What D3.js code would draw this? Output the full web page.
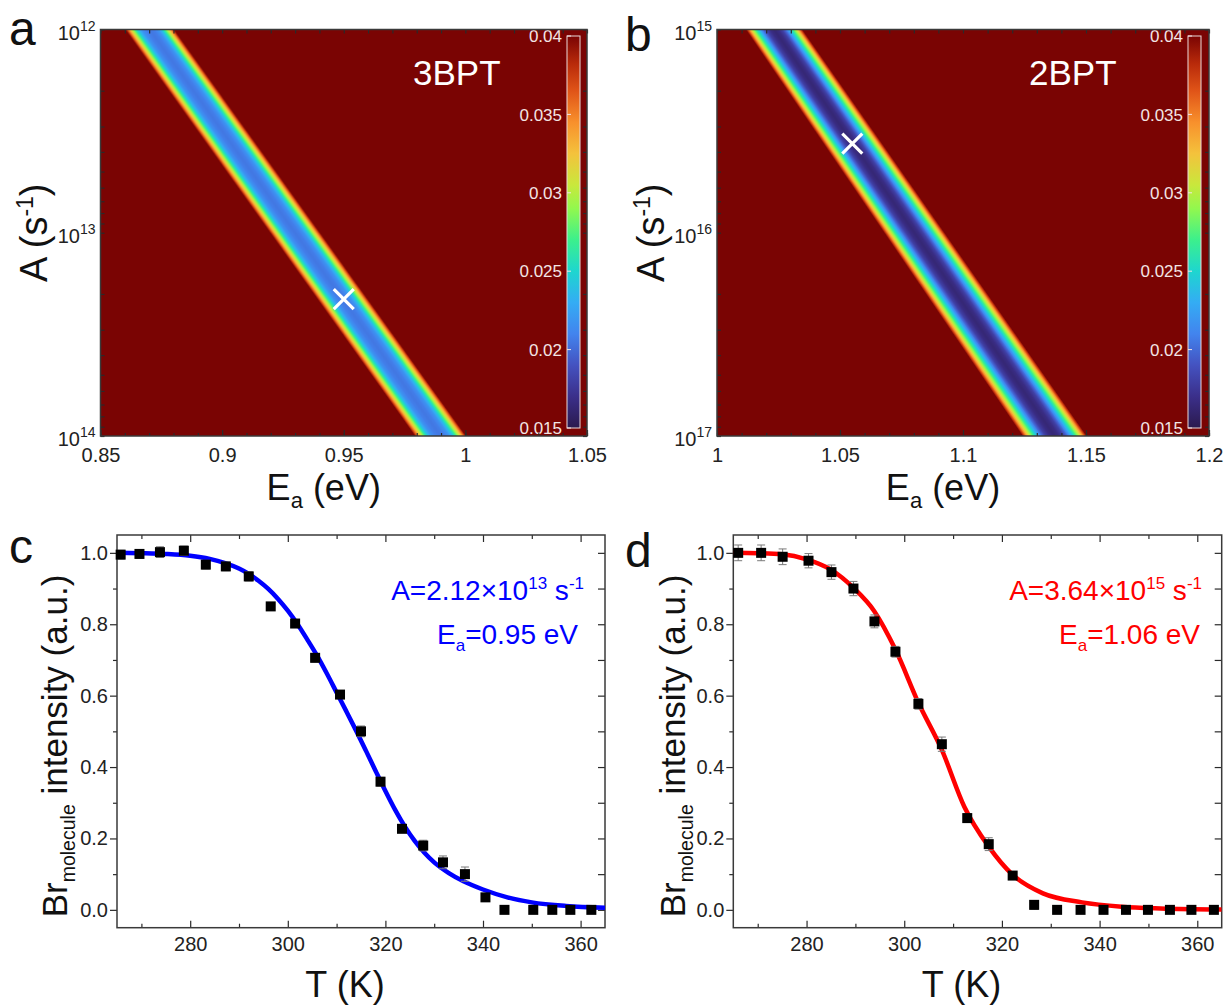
<!DOCTYPE html>
<html>
<head>
<meta charset="utf-8" />
<title>Residual maps and Arrhenius fits</title>
<script src="https://d3js.org/d3.v7.min.js"></script>
<style>
  body { margin: 0; background: #fff; }
  svg { display: block; font-family: Arial, "Liberation Sans", sans-serif; }
  .frame { fill: none; stroke: #3a3a3a; stroke-width: 1.5px; }
  .axis path.domain { display: none; }
  .axis line { stroke: #2a2a2a; stroke-width: 1.2px; }
  .axis text { fill: #222; font-family: Arial, "Liberation Sans", sans-serif; }
</style>
</head>
<body>
<svg id="fig" width="1226" height="1006"></svg>
<script>
  // ---------- data ----------
  // colour bar range (residual)
  const cbDomain = [0.015, 0.04];
  const cbTicks = [0.015, 0.02, 0.025, 0.03, 0.035, 0.04];

  // panel a (3BPT): minimum valley of the residual map
  const mapA_Ea = [0.85, 1.05];
  const mapA_A = [1e12, 1e14];
  const mapA_xTicks = [0.85, 0.9, 0.95, 1, 1.05];
  const mapA_valleyLogA = [12, 14];
  const mapA_valleyEa = [0.8702, 0.9898];
  const mapA_halfWidth = [0.0100, 0.0105];
  const mapA_profOffset = [0, 0.18, 0.34, 0.46, 0.58, 0.7, 0.82, 0.92, 1.0];
  const mapA_profValue = [0.0205, 0.0208, 0.0218, 0.0235, 0.0262, 0.0295, 0.033, 0.0365, 0.040];
  const mapA_best = [0.95, 2.12e13];

  // panel b (2BPT)
  const mapB_Ea = [1.0, 1.2];
  const mapB_A = [1e15, 1e17];
  const mapB_xTicks = [1, 1.05, 1.1, 1.15, 1.2];
  const mapB_valleyLogA = [15, 17];
  const mapB_valleyEa = [1.0232, 1.1373];
  const mapB_halfWidth = [0.0115, 0.0131];
  const mapB_profOffset = [0, 0.14, 0.28, 0.4, 0.52, 0.64, 0.76, 0.88, 1.0];
  const mapB_profValue = [0.0163, 0.0168, 0.018, 0.0202, 0.0232, 0.0265, 0.030, 0.0345, 0.040];
  const mapB_best = [1.055, 3.64e15];

  // panel c (blue fit)
  const c_T = [265.75, 269.6, 273.8, 278.7, 283.2, 287.3, 292.0, 296.5, 301.5, 305.6, 310.7, 315.0,
               319.0, 323.4, 327.75, 331.8, 336.3, 340.5, 344.4, 350.3, 354.2, 357.9, 362.2];
  const c_I = [0.995, 0.997, 1.002, 1.006, 0.967, 0.962, 0.934, 0.850, 0.802, 0.706, 0.603, 0.500,
               0.359, 0.227, 0.180, 0.133, 0.100, 0.035, 0, 0, 0, 0, 0];
  const c_err = [0.012, 0.012, 0.015, 0.013, 0.012, 0.012, 0.013, 0.01, 0.01, 0.012, 0.01, 0.015,
                 0.012, 0.01, 0.015, 0.018, 0.02, 0.008, 0, 0, 0, 0, 0];
  const c_fitT = [265, 270, 275, 280, 284, 287, 290, 292, 294, 296, 298, 300, 302, 304, 306, 308,
                  310, 312, 314, 316, 318, 320, 322, 324, 326, 328, 330, 333, 336, 340, 345, 350,
                  357, 365];
  const c_fitI = [1.0, 0.999, 0.997, 0.992, 0.983, 0.972, 0.956, 0.941, 0.922, 0.899, 0.871, 0.838,
                  0.800, 0.757, 0.712, 0.662, 0.609, 0.556, 0.502, 0.446, 0.389, 0.333, 0.280,
                  0.233, 0.193, 0.160, 0.133, 0.103, 0.080, 0.057, 0.035, 0.021, 0.011, 0.006];

  // panel d (red fit)
  const d_T = [266.0, 270.7, 275.1, 280.4, 285.1, 289.6, 293.9, 298.2, 302.9, 307.7, 312.9, 317.3,
               322.2, 326.6, 331.3, 336.1, 340.8, 345.4, 349.9, 354.4, 358.8, 363.4];
  const d_I = [1.0, 1.0, 0.989, 0.978, 0.946, 0.900, 0.808, 0.723, 0.577, 0.464, 0.257, 0.184,
               0.096, 0.014, 0, 0, 0, 0, 0, 0, 0, 0];
  const d_err = [0.022, 0.022, 0.022, 0.02, 0.02, 0.02, 0.018, 0.015, 0.015, 0.02, 0.012, 0.018,
                 0.01, 0.012, 0, 0, 0, 0, 0, 0, 0, 0];
  const d_fitT = [265, 270, 275, 280, 285, 289.6, 293.9, 298.2, 302.9, 307.7, 312.3, 317.3, 322.2,
                  328.4, 336.4, 344.5, 352.5, 365];
  const d_fitI = [1.0, 0.999, 0.996, 0.982, 0.953, 0.902, 0.836, 0.729, 0.58, 0.448, 0.289, 0.177,
                  0.098, 0.046, 0.021, 0.009, 0.004, 0.001];

  const tDomain = [265, 365];
  const iDomain = [-0.05, 1.05];
  const tMajor = [280, 300, 320, 340, 360];
  const tMinor = [270, 290, 310, 330, 350];
  const iMajor = [0, 0.2, 0.4, 0.6, 0.8, 1.0];
  const iMinor = [0.1, 0.3, 0.5, 0.7, 0.9];

  // turbo-like palette
  const cmapT = [0, 0.08, 0.16, 0.24, 0.32, 0.40, 0.48, 0.56, 0.62, 0.70, 0.78, 0.86, 0.93, 1];
  const cmapC = ["#2b1a4e", "#3b2f8a", "#4452c0", "#4284ee", "#34acf4", "#1ed6cf", "#3cf08c",
                 "#92f84e", "#c9e83c", "#f4c23c", "#f8902c", "#e05418", "#b82a0a", "#7a0403"];

  const svg = d3.select("#fig");
  const FONT = 'Arial, "Liberation Sans", sans-serif';

  const colour = d3.scaleLinear()
    .domain(cmapT.map(t => cbDomain[0] + t * (cbDomain[1] - cbDomain[0])))
    .range(cmapC)
    .clamp(true);

  // lookup table for the canvas
  const LUT = d3.range(512).map(i => d3.rgb(colour(cbDomain[0] + (i / 511) * (cbDomain[1] - cbDomain[0]))));
  function lut(v) {
    let i = Math.round((v - cbDomain[0]) / (cbDomain[1] - cbDomain[0]) * 511);
    return LUT[Math.max(0, Math.min(511, i))];
  }

  // gradient for colour bar
  const defs = svg.append("defs");
  const grad = defs.append("linearGradient").attr("id", "cbgrad")
    .attr("x1", 0).attr("y1", 1).attr("x2", 0).attr("y2", 0);
  cmapT.forEach((t, i) => grad.append("stop").attr("offset", t).attr("stop-color", cmapC[i]));

  function label(x, y, txt, size, anchor) {
    return svg.append("text").attr("x", x).attr("y", y).attr("font-size", size)
      .attr("text-anchor", anchor || "start").attr("fill", "#111").text(txt);
  }

  function styleAxis(sel, size) {
    sel.attr("class", "axis").attr("font-size", size).attr("font-family", FONT);
    sel.selectAll("text").attr("fill", "#222");
  }

  function drawMap(o) {
    const x = d3.scaleLinear().domain(o.xDomain).range([o.left, o.right]);
    const y = d3.scaleLog().domain(o.yDomain).range([o.top, o.bottom]);
    const w = Math.round(o.right - o.left), h = Math.round(o.bottom - o.top);

    // residual map drawn on a canvas then placed as an image
    const canvas = document.createElement("canvas");
    canvas.width = w; canvas.height = h;
    const ctx = canvas.getContext("2d");
    const img = ctx.createImageData(w, h);
    const valleyE = d3.scaleLinear().domain(o.valleyLogA).range(o.valleyEa);
    const halfW = d3.scaleLinear().domain(o.valleyLogA).range(o.halfWidth);
    const prof = d3.scaleLinear().domain(o.profOffset).range(o.profValue).clamp(true);
    for (let py = 0; py < h; py++) {
      const la = Math.log10(y.invert(o.top + (py + 0.5) * (o.bottom - o.top) / h));
      const ec = valleyE(la), hw = halfW(la);
      for (let px = 0; px < w; px++) {
        const e = x.invert(o.left + (px + 0.5) * (o.right - o.left) / w);
        const c = lut(prof(Math.abs(e - ec) / hw));
        const k = (py * w + px) * 4;
        img.data[k] = c.r; img.data[k + 1] = c.g; img.data[k + 2] = c.b; img.data[k + 3] = 255;
      }
    }
    ctx.putImageData(img, 0, 0);
    svg.append("image").attr("x", o.left).attr("y", o.top)
      .attr("width", o.right - o.left).attr("height", o.bottom - o.top)
      .attr("preserveAspectRatio", "none")
      .attr("href", canvas.toDataURL());

    // best-fit cross
    const bx = x(o.best[0]), by = y(o.best[1]), s = 10;
    svg.append("path")
      .attr("d", `M${bx - s},${by - s}L${bx + s},${by + s}M${bx - s},${by + s}L${bx + s},${by - s}`)
      .attr("stroke", "#fff").attr("stroke-width", 3.2).attr("fill", "none");

    // name
    svg.append("text").attr("x", o.nameX).attr("y", 85).attr("font-size", 35)
      .attr("fill", "#fff").text(o.name);

    // colour bar
    const cb = d3.scaleLinear().domain(cbDomain).range([428, 36]);
    svg.append("rect").attr("x", o.cbX).attr("y", cb(cbDomain[1]))
      .attr("width", 13).attr("height", cb(cbDomain[0]) - cb(cbDomain[1]))
      .attr("fill", "url(#cbgrad)").attr("stroke", "#eadada").attr("stroke-width", 1);
    cbTicks.forEach(v => {
      svg.append("line").attr("x1", o.cbX).attr("x2", o.cbX + 4)
        .attr("y1", cb(v)).attr("y2", cb(v)).attr("stroke", "#f3e4e4").attr("stroke-width", 1);
      svg.append("text").attr("x", o.cbX - 5).attr("y", cb(v)).attr("dy", "0.36em")
        .attr("text-anchor", "end").attr("font-size", 17).attr("fill", "#f3e4e4")
        .text(d3.format("~g")(v));
    });

    // axes (ticks pointing inwards)
    const minorX = d3.range(o.xDomain[0], o.xDomain[1] + 1e-9, 0.01);
    const logTicks = y.ticks();
    const decades = logTicks.filter(v => Math.abs(Math.log10(v) - Math.round(Math.log10(v))) < 1e-6);
    const bottomAx = svg.append("g").attr("transform", `translate(0,${o.bottom})`);
    bottomAx.call(d3.axisBottom(x).tickValues(minorX).tickSize(-3).tickFormat(""));
    styleAxis(bottomAx, 20);
    const bottomMaj = svg.append("g").attr("transform", `translate(0,${o.bottom})`);
    bottomMaj.call(d3.axisBottom(x).tickValues(o.xTicks).tickSize(-6).tickPadding(12)
      .tickFormat(d3.format("~g")));
    styleAxis(bottomMaj, 20);
    const topAx = svg.append("g").attr("transform", `translate(0,${o.top})`);
    topAx.call(d3.axisTop(x).tickValues(minorX).tickSize(-4).tickFormat(""));
    styleAxis(topAx, 20);
    const leftAx = svg.append("g").attr("transform", `translate(${o.left},0)`);
    leftAx.call(d3.axisLeft(y).tickValues(logTicks).tickSize(-4).tickFormat(""));
    styleAxis(leftAx, 20);
    const rightAx = svg.append("g").attr("transform", `translate(${o.right},0)`);
    rightAx.call(d3.axisRight(y).tickValues(logTicks).tickSize(-4).tickFormat(""));
    styleAxis(rightAx, 20);

    decades.forEach(v => {
      const t = svg.append("text").attr("x", o.left - 5).attr("y", y(v) + 10)
        .attr("text-anchor", "end").attr("font-size", 20).attr("fill", "#222");
      t.append("tspan").text("10");
      t.append("tspan").attr("dy", -9).attr("font-size", 14).text(Math.round(Math.log10(v)));
    });

    svg.append("rect").attr("class", "frame").attr("x", o.left).attr("y", o.top)
      .attr("width", o.right - o.left).attr("height", o.bottom - o.top);

    // titles
    const xt = svg.append("text").attr("x", (o.left + o.right) / 2 - 20).attr("y", 500)
      .attr("text-anchor", "middle").attr("font-size", 36).attr("fill", "#111");
    xt.append("tspan").text("E");
    xt.append("tspan").attr("dy", 8).attr("font-size", 22).text("a");
    xt.append("tspan").attr("dy", -8).text(" (eV)");

    const yt = svg.append("text")
      .attr("transform", `translate(${o.yTitleX},${(o.top + o.bottom) / 2}) rotate(-90)`)
      .attr("text-anchor", "middle").attr("font-size", 38).attr("fill", "#111");
    yt.append("tspan").text("A (s");
    yt.append("tspan").attr("dy", -14).attr("font-size", 23).text("-1");
    yt.append("tspan").attr("dy", 14).text(")");
  }

  function drawFit(o) {
    const x = d3.scaleLinear().domain(tDomain).range([o.left, o.right]);
    const y = d3.scaleLinear().domain(iDomain).range([o.bottom, o.top]);

    const clipId = "clip" + o.name;
    defs.append("clipPath").attr("id", clipId).append("rect")
      .attr("x", o.left).attr("y", o.top).attr("width", o.right - o.left).attr("height", o.bottom - o.top);

    // axes
    const bMin = svg.append("g").attr("transform", `translate(0,${o.bottom})`);
    bMin.call(d3.axisBottom(x).tickValues(tMinor).tickSize(-4).tickFormat(""));
    styleAxis(bMin, 20);
    const bMaj = svg.append("g").attr("transform", `translate(0,${o.bottom})`);
    bMaj.call(d3.axisBottom(x).tickValues(tMajor).tickSize(-7).tickPadding(9).tickFormat(d3.format("d")));
    styleAxis(bMaj, 20);
    const tAx = svg.append("g").attr("transform", `translate(0,${o.top})`);
    tAx.call(d3.axisTop(x).tickValues(tMinor).tickSize(-4).tickFormat(""));
    tAx.call(g => g.append("g").call(d3.axisTop(x).tickValues(tMajor).tickSize(-7).tickFormat("")));
    styleAxis(tAx, 20);
    const lMin = svg.append("g").attr("transform", `translate(${o.left},0)`);
    lMin.call(d3.axisLeft(y).tickValues(iMinor).tickSize(4).tickFormat(""));
    styleAxis(lMin, 20);
    const lMaj = svg.append("g").attr("transform", `translate(${o.left},0)`);
    lMaj.call(d3.axisLeft(y).tickValues(iMajor).tickSize(7).tickPadding(2).tickFormat(d3.format(".1f")));
    styleAxis(lMaj, 20);
    const rAx = svg.append("g").attr("transform", `translate(${o.right},0)`);
    rAx.call(d3.axisRight(y).tickValues(iMajor.concat(iMinor)).tickSize(-7).tickFormat(""));
    styleAxis(rAx, 20);

    svg.append("rect").attr("class", "frame").attr("x", o.left).attr("y", o.top)
      .attr("width", o.right - o.left).attr("height", o.bottom - o.top);

    // fit curve
    const line = d3.line().x((d, i) => x(o.fitT[i])).y(d => y(d)).curve(d3.curveMonotoneX);
    svg.append("path").datum(o.fitI).attr("d", line).attr("clip-path", `url(#${clipId})`)
      .attr("fill", "none").attr("stroke", o.colour).attr("stroke-width", 4.5);

    // error bars
    const eb = svg.append("g").attr("stroke", "#7a7a7a").attr("stroke-width", 1);
    o.T.forEach((t, i) => {
      const e = o.err[i];
      if (!e) return;
      const cx = x(t), y1 = y(o.I[i] - e), y2 = y(o.I[i] + e);
      eb.append("line").attr("x1", cx).attr("x2", cx).attr("y1", y1).attr("y2", y2);
      eb.append("line").attr("x1", cx - 4).attr("x2", cx + 4).attr("y1", y1).attr("y2", y1);
      eb.append("line").attr("x1", cx - 4).attr("x2", cx + 4).attr("y1", y2).attr("y2", y2);
    });

    // markers
    svg.append("g").selectAll("rect").data(o.I).join("rect")
      .attr("x", (d, i) => x(o.T[i]) - 5).attr("y", d => y(d) - 5)
      .attr("width", 10).attr("height", 10).attr("fill", "#000");

    // fit parameters
    const a1 = svg.append("text").attr("x", o.txtX1).attr("y", 600).attr("text-anchor", "end")
      .attr("font-size", 28).attr("fill", o.colour);
    a1.append("tspan").text("A=" + o.Atext + "\u00d710");
    a1.append("tspan").attr("dy", -11).attr("font-size", 17).text(o.Aexp);
    a1.append("tspan").attr("dy", 11).text(" s");
    a1.append("tspan").attr("dy", -11).attr("font-size", 17).text("-1");
    const a2 = svg.append("text").attr("x", o.txtX2).attr("y", 644).attr("text-anchor", "end")
      .attr("font-size", 28).attr("fill", o.colour);
    a2.append("tspan").text("E");
    a2.append("tspan").attr("dy", 7).attr("font-size", 17).text("a");
    a2.append("tspan").attr("dy", -7).text("=" + o.Etext + " eV");

    // titles
    label((o.left + o.right) / 2 - 16, 997, "T (K)", 36, "middle");
    const yt = svg.append("text")
      .attr("transform", `translate(${o.yTitleX},746) rotate(-90)`)
      .attr("text-anchor", "middle").attr("font-size", 35).attr("fill", "#111");
    yt.append("tspan").text("Br");
    yt.append("tspan").attr("dy", 8).attr("font-size", 19.5).text("molecule");
    yt.append("tspan").attr("dy", -8).text(" intensity (a.u.)");
  }

  drawMap({
    left: 100.5, right: 587, top: 29.5, bottom: 436,
    xDomain: mapA_Ea, yDomain: mapA_A, xTicks: mapA_xTicks,
    valleyLogA: mapA_valleyLogA, valleyEa: mapA_valleyEa, halfWidth: mapA_halfWidth,
    profOffset: mapA_profOffset, profValue: mapA_profValue, best: mapA_best,
    name: "3BPT", nameX: 413, cbX: 567, yTitleX: 47
  });
  drawMap({
    left: 717, right: 1209, top: 29.5, bottom: 436,
    xDomain: mapB_Ea, yDomain: mapB_A, xTicks: mapB_xTicks,
    valleyLogA: mapB_valleyLogA, valleyEa: mapB_valleyEa, halfWidth: mapB_halfWidth,
    profOffset: mapB_profOffset, profValue: mapB_profValue, best: mapB_best,
    name: "2BPT", nameX: 1029, cbX: 1188, yTitleX: 664
  });
  drawFit({
    name: "c", left: 117, right: 605, top: 535, bottom: 927.7,
    T: c_T, I: c_I, err: c_err, fitT: c_fitT, fitI: c_fitI, colour: "#0000ff",
    Atext: "2.12", Aexp: "13", Etext: "0.95", txtX1: 584, txtX2: 578, yTitleX: 67
  });
  drawFit({
    name: "d", left: 733.3, right: 1221.7, top: 535, bottom: 927.7,
    T: d_T, I: d_I, err: d_err, fitT: d_fitT, fitI: d_fitI, colour: "#ff0000",
    Atext: "3.64", Aexp: "15", Etext: "1.06", txtX1: 1202, txtX2: 1200, yTitleX: 685
  });

  // panel letters
  label(9, 45, "a", 48);
  label(625, 51, "b", 48);
  label(9, 563, "c", 48);
  label(625, 567, "d", 48);
</script>
</body>
</html>
